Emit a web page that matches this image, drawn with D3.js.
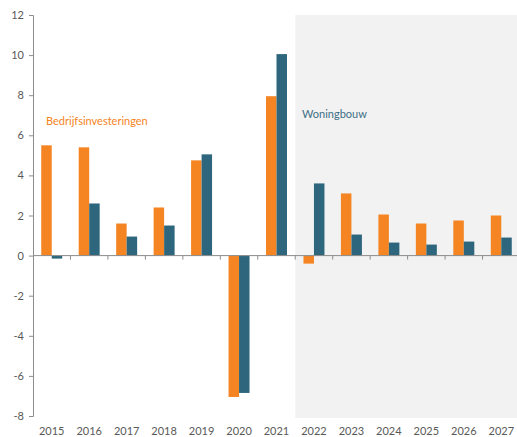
<!DOCTYPE html>
<html>
<head>
<meta charset="utf-8">
<script src="https://cdn.jsdelivr.net/npm/d3@7"></script>
<style>
body { margin: 0; background: #fff; }
text { font-family: Lato, "Open Sans", sans-serif; }
</style>
</head>
<body>
<div id="chart"></div>
<script>
var years = ["2015","2016","2017","2018","2019","2020","2021","2022","2023","2024","2025","2026","2027"]
var bedrijf = [5.5, 5.4, 1.6, 2.4, 4.75, -7.05, 7.95, -0.4, 3.1, 2.05, 1.6, 1.75, 2.0]
var woning = [-0.15, 2.6, 0.95, 1.5, 5.05, -6.85, 10.05, 3.6, 1.05, 0.65, 0.55, 0.7, 0.9]
var yTicks = [-8, -6, -4, -2, 0, 2, 4, 6, 8, 10, 12]
var forecastFrom = "2022"

var W = 517, H = 437
var orange = "#f58423", blue = "#2e677d", gray = "#595959"

var svg = d3.select("#chart").append("svg")
  .attr("width", W).attr("height", H)

var x = d3.scaleBand().domain(years).range([33, 520]).padding(0)
var y = d3.scaleLinear().domain([-8, 12]).range([416, 15])

// forecast shading
svg.append("rect")
  .attr("x", x(forecastFrom))
  .attr("y", y(12))
  .attr("width", W - x(forecastFrom))
  .attr("height", y(-8) - y(12) + 2)
  .attr("fill", "#f2f2f2")

var bw = x.bandwidth() * 0.28
function bars(data, cls, color, off) {
  svg.selectAll("rect." + cls)
    .data(data)
    .enter().append("rect")
    .attr("class", cls)
    .attr("x", (d, i) => x(years[i]) + x.bandwidth() / 2 + off * bw)
    .attr("width", bw)
    .attr("y", d => y(Math.max(0, d)))
    .attr("height", d => Math.abs(y(d) - y(0)))
    .attr("fill", color)
}
bars(bedrijf, "b", orange, -1)
bars(woning, "w", blue, 0)

// y axis
var yAxis = svg.append("g")
  .attr("transform", "translate(33,0)")
  .call(d3.axisLeft(y).tickValues(yTicks).tickSize(4).tickPadding(5)
    .tickFormat(d => String(d)))
yAxis.select(".domain").attr("stroke", "#8c8c8c")
yAxis.selectAll(".tick line").attr("stroke", "#8c8c8c")
yAxis.selectAll("text").attr("fill", gray).style("font-size", "11px")

// x axis on zero line, ticks between categories
svg.append("line")
  .attr("x1", 33).attr("x2", W)
  .attr("y1", y(0)).attr("y2", y(0))
  .attr("stroke", "#8c8c8c")
svg.selectAll("line.xt")
  .data(years.slice(1))
  .enter().append("line")
  .attr("class", "xt")
  .attr("x1", d => x(d)).attr("x2", d => x(d))
  .attr("y1", y(0)).attr("y2", y(0) + 4)
  .attr("stroke", "#8c8c8c")

svg.selectAll("text.yr")
  .data(years)
  .enter().append("text")
  .attr("class", "yr")
  .attr("x", d => x(d) + x.bandwidth() / 2)
  .attr("y", 435)
  .attr("text-anchor", "middle")
  .attr("fill", gray)
  .style("font-size", "11px")
  .text(d => d)

// series labels
svg.append("text")
  .attr("x", 46).attr("y", 125)
  .attr("fill", orange)
  .style("font-size", "11px")
  .text("Bedrijfsinvesteringen")

svg.append("text")
  .attr("x", 302).attr("y", 118)
  .attr("fill", "#3d6f85")
  .style("font-size", "11px")
  .text("Woningbouw")
</script>
</body>
</html>
